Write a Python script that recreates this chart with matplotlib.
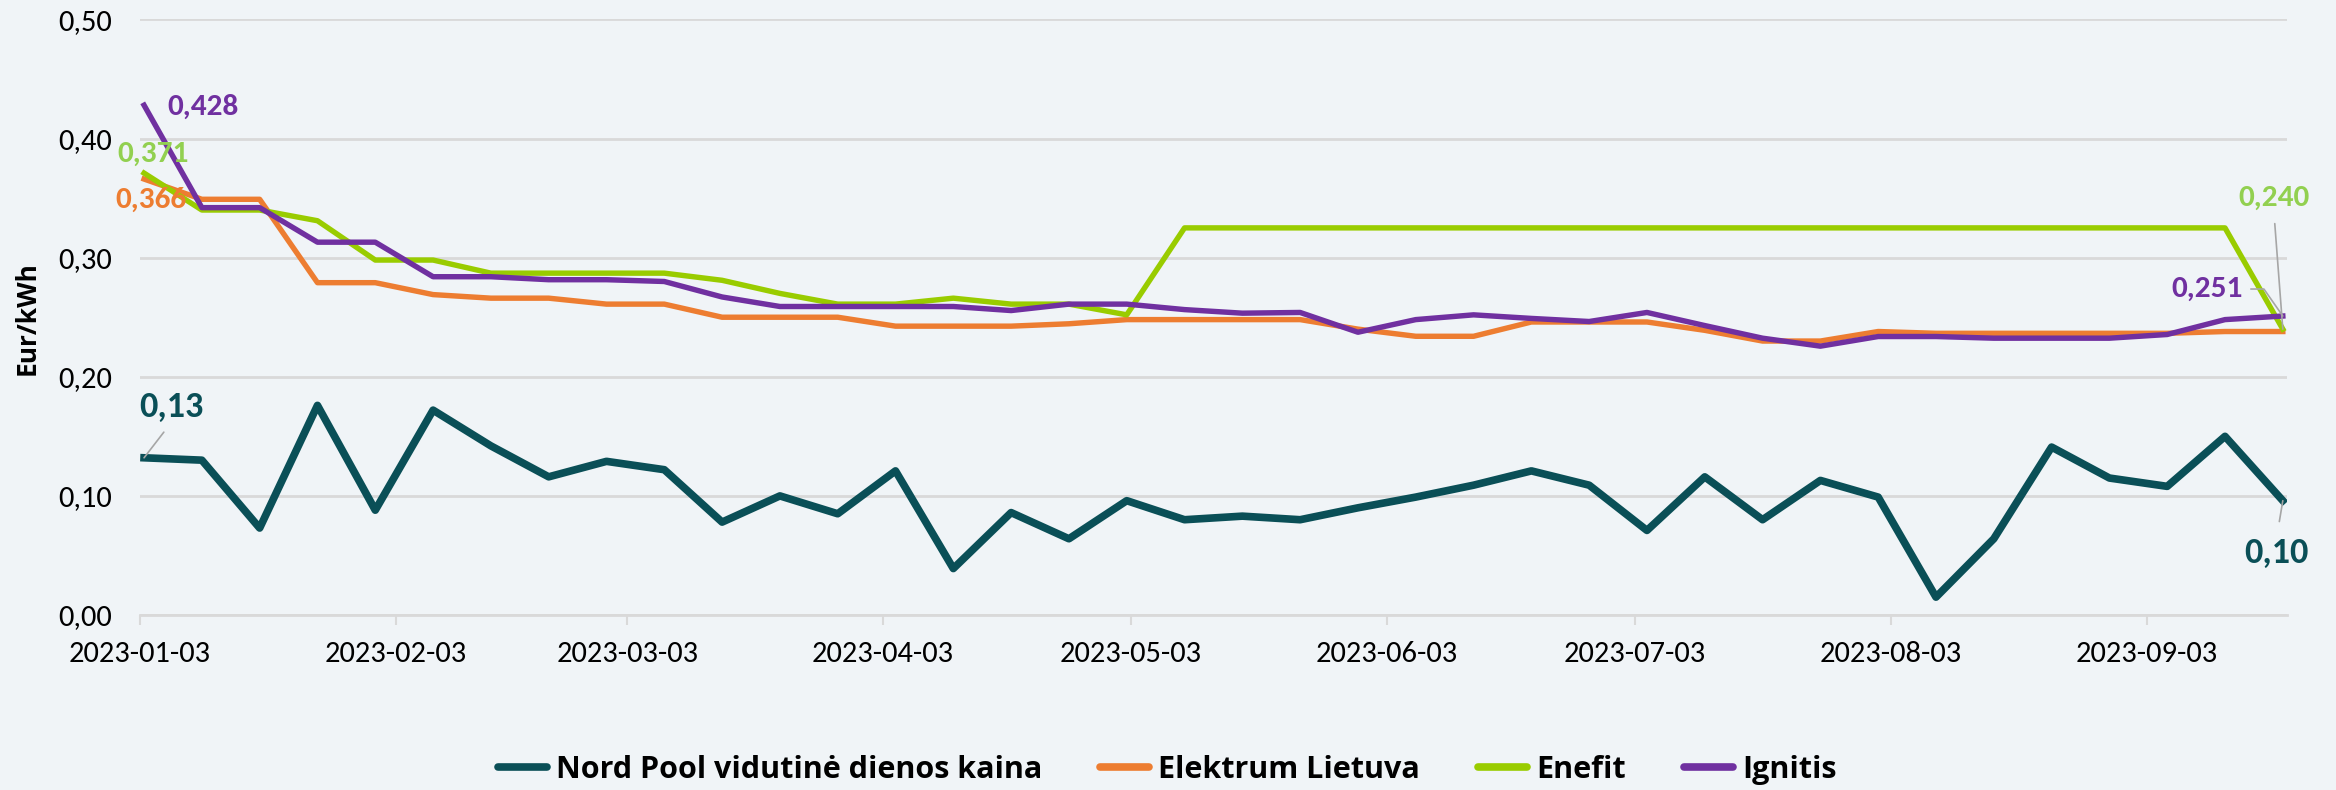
import matplotlib
matplotlib.use("Agg")
import matplotlib.pyplot as plt
import matplotlib.dates as mdates
import matplotlib.ticker as mticker
import pandas as pd

# weekly prices, 2023-01-03 .. 2023-09-19 (points sit mid-day, like Excel's date axis)
dates = pd.date_range("2023-01-03 12:00", periods=38, freq="7D")

nord_pool = [0.132, 0.130, 0.073, 0.176, 0.088, 0.172, 0.142, 0.116, 0.129, 0.122,
             0.078, 0.100, 0.085, 0.121, 0.039, 0.086, 0.064, 0.096, 0.080, 0.083,
             0.080, 0.090, 0.099, 0.109, 0.121, 0.109, 0.071, 0.116, 0.080, 0.113,
             0.099, 0.015, 0.064, 0.141, 0.115, 0.108, 0.150, 0.096]

elektrum = [0.366, 0.349, 0.349, 0.279, 0.279, 0.269, 0.266, 0.266, 0.261, 0.261,
            0.250, 0.250, 0.250, 0.2425, 0.2425, 0.2425, 0.2445, 0.248, 0.248, 0.248,
            0.248, 0.240, 0.234, 0.234, 0.246, 0.246, 0.246, 0.239, 0.230, 0.230,
            0.238, 0.2365, 0.2365, 0.2365, 0.2365, 0.2365, 0.238, 0.238]

enefit = [0.371, 0.340, 0.340, 0.331, 0.298, 0.298, 0.287, 0.287, 0.287, 0.287,
          0.281, 0.270, 0.261, 0.261, 0.266, 0.261, 0.261, 0.252, 0.325, 0.325,
          0.325, 0.325, 0.325, 0.325, 0.325, 0.325, 0.325, 0.325, 0.325, 0.325,
          0.325, 0.325, 0.325, 0.325, 0.325, 0.325, 0.325, 0.240]

ignitis = [0.428, 0.342, 0.342, 0.313, 0.313, 0.284, 0.284, 0.2815, 0.2815, 0.280,
           0.267, 0.259, 0.259, 0.259, 0.259, 0.2556, 0.261, 0.261, 0.2564, 0.2534,
           0.254, 0.2374, 0.248, 0.252, 0.249, 0.2464, 0.254, 0.243, 0.2324, 0.2257,
           0.2338, 0.2338, 0.2324, 0.2324, 0.2324, 0.2355, 0.248, 0.251]

labels = ["Nord Pool vidutinė dienos kaina", "Elektrum Lietuva", "Enefit", "Ignitis"]
colors = ["#0A4F57", "#ED7D31", "#99CC00", "#7030A0"]
label_colors = ["#0A4F57", "#ED7D31", "#92D050", "#7030A0"]

BG = "#F0F4F7"
GRID = "#D9D9D9"
plt.rcParams["font.family"] = ["Carlito", "DejaVu Sans"]
SEGOE = ["Open Sans", "DejaVu Sans"]

fig = plt.figure(figsize=(23.36, 7.9), dpi=100, facecolor=BG)
ax = fig.add_axes([0.0599, 0.2215, 0.9191, 0.7539])
ax.set_facecolor(BG)

series = [nord_pool, elektrum, enefit, ignitis]
widths = [5.5, 3.9, 3.9, 3.9]
for vals, lab, col, lw in zip(series, labels, colors, widths):
    ax.plot(dates, vals, color=col, lw=lw, label=lab)

ax.set_ylim(0, 0.5)
ax.set_xlim(dates[0] - pd.Timedelta(hours=12), dates[-1] + pd.Timedelta(hours=12))
ax.yaxis.set_major_locator(mticker.MultipleLocator(0.1))
ax.yaxis.set_major_formatter(mticker.FuncFormatter(lambda v, p: f"{v:.2f}".replace(".", ",")))
ax.xaxis.set_major_locator(mdates.MonthLocator(bymonthday=3))
ax.xaxis.set_major_formatter(mdates.DateFormatter("%Y-%m-%d"))

ax.grid(axis="y", color=GRID, lw=2)
ax.set_axisbelow(True)
for s in ["left", "right", "top"]:
    ax.spines[s].set_visible(False)
ax.spines["bottom"].set_color(GRID)
ax.spines["bottom"].set_linewidth(2)
ax.tick_params(axis="y", length=0, pad=20, labelsize=22)
ax.tick_params(axis="x", length=7, width=1.5, color=GRID, pad=12, labelsize=22)

fig.text(27 / 2336, 0.597, "Eur/kWh", family=SEGOE, fontweight="bold",
         fontsize=19, rotation=90, ha="center", va="center")

# data labels
lead = dict(arrowstyle="-", color="#A6A6A6", lw=1.2, shrinkB=0)
fs = 22.5
fs_np = 26
ax.annotate("0,428", (dates[0], ignitis[0]), xytext=(23, -2), textcoords="offset pixels",
            ha="left", va="center", color=label_colors[3], fontsize=fs, fontweight="bold")
ax.annotate("0,371", (dates[0], enefit[0]), xytext=(9, 19), textcoords="offset pixels",
            ha="center", va="center", color=label_colors[2], fontsize=fs, fontweight="bold")
ax.annotate("0,366", (dates[0], elektrum[0]), xytext=(7, -21), textcoords="offset pixels",
            ha="center", va="center", color=label_colors[1], fontsize=fs, fontweight="bold")
ax.annotate("0,13", (dates[0], nord_pool[0]), xytext=(27, 51), textcoords="offset pixels",
            ha="center", va="center", color=label_colors[0], fontsize=fs_np, fontweight="bold",
            arrowprops=dict(lead, shrinkA=6, relpos=(0.5, 0)))
ax.annotate("0,240", (dates[-1], enefit[-1]), xytext=(-9, 131), textcoords="offset pixels",
            ha="center", va="center", color=label_colors[2], fontsize=fs, fontweight="bold",
            arrowprops=dict(lead, shrinkA=7, relpos=(0.5, 0)))
ax.annotate("0,251", (dates[-1], ignitis[-1]), xytext=(-76, 27), textcoords="offset pixels",
            ha="center", va="center", color=label_colors[3], fontsize=fs, fontweight="bold",
            arrowprops=dict(lead, shrinkA=4, relpos=(1, 0.5),
                            connectionstyle="angle,angleA=0,angleB=-55,rad=0"))
ax.annotate("0,10", (dates[-1], nord_pool[-1]), xytext=(-6, -52), textcoords="offset pixels",
            ha="center", va="center", color=label_colors[0], fontsize=fs_np, fontweight="bold",
            arrowprops=dict(lead, shrinkA=9, relpos=(0.5, 1)))

leg = fig.legend(loc="center", bbox_to_anchor=(0.4996, 0.0255), ncol=4, frameon=False,
                 prop=dict(family=SEGOE, weight="bold", size=22), handlelength=1.6,
                 handletextpad=0.3, columnspacing=1.9)
for h in leg.get_lines():
    h.set_linewidth(5.5)
    h.set_solid_capstyle("round")

fig.savefig("out.png", dpi=100, facecolor=BG)
